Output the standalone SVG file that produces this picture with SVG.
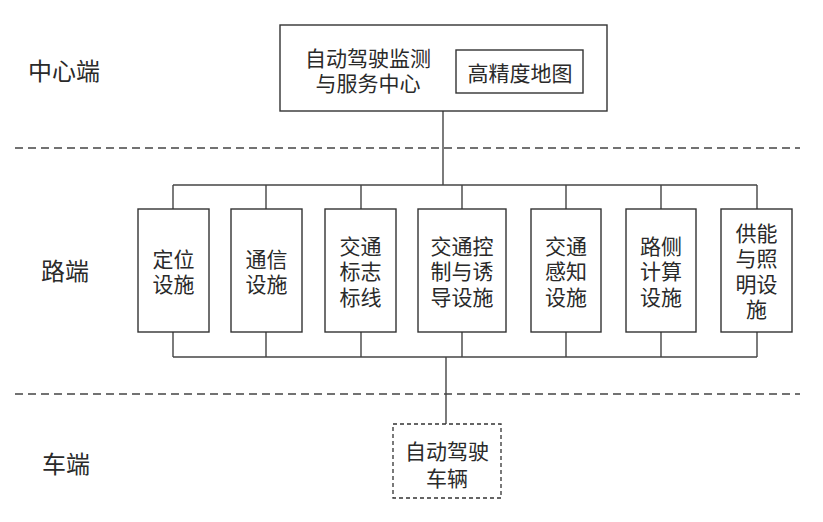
<svg xmlns="http://www.w3.org/2000/svg" width="823" height="522" viewBox="0 0 823 522">
<style>
.box{fill:#fff;stroke:#333;stroke-width:1.4}
.dbox{fill:#fff;stroke:#333;stroke-width:1.3;stroke-dasharray:4 3}
.ln{fill:none;stroke:#444;stroke-width:1.4}
.sep{fill:none;stroke:#444;stroke-width:1.3;stroke-dasharray:8 5}
text{font-family:"Noto Sans CJK SC","Noto Sans",sans-serif;fill:#2a2a2a;text-anchor:middle;dominant-baseline:central}
.t{font-size:21px}
.lab{font-size:24px}
</style>
<rect width="823" height="522" fill="#fff"/>
<g id="separators">
<line class="sep" x1="15" y1="148" x2="800" y2="148"/>
<line class="sep" x1="15" y1="394" x2="800" y2="394"/>
</g>
<g id="labels">
<text class="lab" x="64" y="69">中心端</text>
<text class="lab" x="65" y="269">路端</text>
<text class="lab" x="66" y="462">车端</text>
</g>
<g id="connectors">
<line class="ln" x1="443" y1="111" x2="443" y2="185"/>
<line class="ln" x1="173" y1="185" x2="757" y2="185"/>
<line class="ln" x1="173" y1="185" x2="173" y2="209"/>
<line class="ln" x1="266" y1="185" x2="266" y2="209"/>
<line class="ln" x1="361" y1="185" x2="361" y2="209"/>
<line class="ln" x1="462" y1="185" x2="462" y2="209"/>
<line class="ln" x1="566" y1="185" x2="566" y2="209"/>
<line class="ln" x1="661" y1="185" x2="661" y2="209"/>
<line class="ln" x1="757" y1="185" x2="757" y2="209"/>
<line class="ln" x1="173" y1="357" x2="757" y2="357"/>
<line class="ln" x1="173" y1="332" x2="173" y2="357"/>
<line class="ln" x1="266" y1="332" x2="266" y2="357"/>
<line class="ln" x1="361" y1="332" x2="361" y2="357"/>
<line class="ln" x1="462" y1="332" x2="462" y2="357"/>
<line class="ln" x1="566" y1="332" x2="566" y2="357"/>
<line class="ln" x1="661" y1="332" x2="661" y2="357"/>
<line class="ln" x1="757" y1="332" x2="757" y2="357"/>
<line class="ln" x1="446" y1="357" x2="446" y2="424"/>
</g>
<g id="center">
<rect class="box" x="280" y="25" width="327" height="86"/>
<text class="t" x="368" y="57"><tspan x="368" y="57">自动驾驶监测</tspan><tspan x="368" y="82">与服务中心</tspan></text>
</g>
<g id="hdmap">
<rect class="box" x="456" y="50" width="127" height="43"/>
<text class="t" x="520" y="72">高精度地图</text>
</g>
<g id="n1">
<rect class="box" x="138" y="209" width="71" height="123"/>
<text class="t" x="173.5" y="258"><tspan x="173.5" y="258">定位</tspan><tspan x="173.5" y="283">设施</tspan></text>
</g>
<g id="n2">
<rect class="box" x="231" y="209" width="71" height="123"/>
<text class="t" x="266.5" y="258"><tspan x="266.5" y="258">通信</tspan><tspan x="266.5" y="283">设施</tspan></text>
</g>
<g id="n3">
<rect class="box" x="325" y="209" width="71" height="123"/>
<text class="t" x="360.5" y="245"><tspan x="360.5" y="245">交通</tspan><tspan x="360.5" y="270">标志</tspan><tspan x="360.5" y="296">标线</tspan></text>
</g>
<g id="n4">
<rect class="box" x="418" y="209" width="88" height="123"/>
<text class="t" x="462" y="245"><tspan x="462" y="245">交通控</tspan><tspan x="462" y="270">制与诱</tspan><tspan x="462" y="296">导设施</tspan></text>
</g>
<g id="n5">
<rect class="box" x="531" y="209" width="70" height="123"/>
<text class="t" x="566" y="245"><tspan x="566" y="245">交通</tspan><tspan x="566" y="270">感知</tspan><tspan x="566" y="296">设施</tspan></text>
</g>
<g id="n6">
<rect class="box" x="626" y="209" width="70" height="123"/>
<text class="t" x="661" y="245"><tspan x="661" y="245">路侧</tspan><tspan x="661" y="270">计算</tspan><tspan x="661" y="296">设施</tspan></text>
</g>
<g id="n7">
<rect class="box" x="721" y="209" width="71" height="123"/>
<text class="t" x="756.5" y="232"><tspan x="756.5" y="232">供能</tspan><tspan x="756.5" y="257">与照</tspan><tspan x="756.5" y="283">明设</tspan><tspan x="756.5" y="308">施</tspan></text>
</g>
<g id="vehicle">
<rect class="dbox" x="393" y="424" width="108" height="74"/>
<text class="t" x="447" y="450"><tspan x="447" y="450">自动驾驶</tspan><tspan x="447" y="477">车辆</tspan></text>
</g>
</svg>
